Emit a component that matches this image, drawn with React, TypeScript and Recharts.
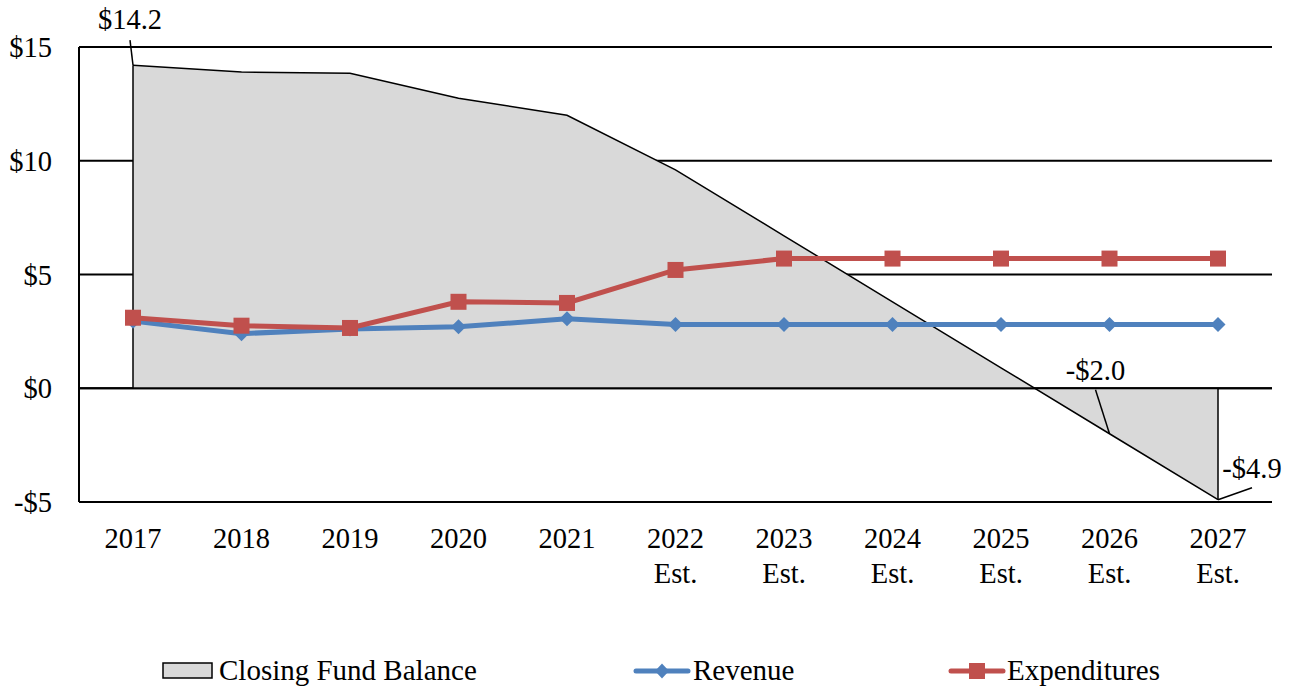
import React from "react";
import {
  ComposedChart,
  Area,
  Line,
  XAxis,
  YAxis,
  CartesianGrid,
  ReferenceLine,
  LabelList,
} from "recharts";

// values in $ millions
const years = ["2017", "2018", "2019", "2020", "2021", "2022", "2023", "2024", "2025", "2026", "2027"];
const estimated = [false, false, false, false, false, true, true, true, true, true, true];
const fundBalance = [14.2, 13.9, 13.85, 12.75, 12.0, 9.6, 6.7, 3.8, 0.9, -2.0, -4.9];
const revenue = [2.95, 2.4, 2.6, 2.7, 3.05, 2.8, 2.8, 2.8, 2.8, 2.8, 2.8];
const expenditures = [3.1, 2.75, 2.65, 3.8, 3.75, 5.2, 5.7, 5.7, 5.7, 5.7, 5.7];
const yTicks = [-5, 0, 5, 10, 15];
const labelledPoints = [0, 9, 10];
const seriesNames = ["Closing Fund Balance", "Revenue", "Expenditures"];

const FONT = "Liberation Serif, Times New Roman, Times, serif";
const BLUE = "#4F81BD";
const RED = "#C0504D";
const GRAY = "#D9D9D9";

const data = years.map((y, i) => ({
  year: estimated[i] ? `${y} Est.` : y,
  fund: fundBalance[i],
  revenue: revenue[i],
  expenditures: expenditures[i],
}));

const money = (v: number) => (v < 0 ? `-$${Math.abs(v)}` : `$${v}`);
const money1 = (v: number) => (v < 0 ? `-$${Math.abs(v).toFixed(1)}` : `$${v.toFixed(1)}`);

const textStyle = { fontFamily: FONT, fontSize: 28.5 };
const legendText = { fontFamily: FONT, fontSize: 29 };

// where each data label sits relative to its point (leader end, text)
const labelOffsets: Record<number, { lx: number; ly: number; tx: number; ty: number }> = {
  0: { lx: -3, ly: -25, tx: -3, ty: -36 },
  9: { lx: -14, ly: -44, tx: -14, ty: -54 },
  10: { lx: 34, ly: -12, tx: 34, ty: -22 },
};

const FundLabel = (props: any) => {
  const { x, y, index, value } = props;
  if (!labelledPoints.includes(index)) return null;
  const o = labelOffsets[index];
  return (
    <g>
      <line x1={x} y1={y} x2={x + o.lx} y2={y + o.ly} stroke="#000" strokeWidth={1.5} />
      <text x={x + o.tx} y={y + o.ty} textAnchor="middle" style={textStyle} fill="#000">
        {money1(value)}
      </text>
    </g>
  );
};

const XTick = (props: any) => {
  const { x, y, payload } = props;
  const parts = String(payload.value).split(" ");
  return (
    <text x={x} y={y} textAnchor="middle" style={textStyle} fill="#000">
      {parts.map((p, i) => (
        <tspan key={i} x={x} dy={i === 0 ? 46 : 35}>
          {p}
        </tspan>
      ))}
    </text>
  );
};

const Diamond = (props: any) => {
  const { cx, cy } = props;
  if (cx == null || cy == null) return null;
  const r = 7.5;
  return <polygon points={`${cx},${cy - r} ${cx + r},${cy} ${cx},${cy + r} ${cx - r},${cy}`} fill={BLUE} />;
};

const Square = (props: any) => {
  const { cx, cy } = props;
  if (cx == null || cy == null) return null;
  return <rect x={cx - 8} y={cy - 8} width={16} height={16} fill={RED} />;
};

const Legend = () => (
  <svg width={1294} height={60} style={{ position: "absolute", left: 0, top: 640 }}>
    <rect x={163} y={23} width={49} height={15} fill={GRAY} stroke="#000" strokeWidth={1.5} />
    <text x={219} y={40} style={legendText} fill="#000">{seriesNames[0]}</text>
    <line x1={636} y1={31} x2={688} y2={31} stroke={BLUE} strokeWidth={5} strokeLinecap="round" />
    <polygon points="662,23.5 669,31 662,38.5 655,31" fill={BLUE} />
    <text x={693} y={40} style={legendText} fill="#000">{seriesNames[1]}</text>
    <line x1={951} y1={31} x2={1003} y2={31} stroke={RED} strokeWidth={5} strokeLinecap="round" />
    <rect x={969} y={23} width={16} height={16} fill={RED} />
    <text x={1007} y={40} style={legendText} fill="#000">{seriesNames[2]}</text>
  </svg>
);

export default function App() {
  const first = data[0];
  const last = data[data.length - 1];
  return (
    <div style={{ position: "absolute", left: 0, top: 0, width: 1294, height: 686, background: "#fff", fontFamily: FONT }}>
      <ComposedChart
        width={1294}
        height={686}
        data={data}
        margin={{ top: 47, right: 22, left: 0, bottom: 84 }}
        style={{ fontFamily: FONT }}
      >
        <CartesianGrid horizontal vertical={false} stroke="#000" strokeWidth={2} />
        <XAxis
          dataKey="year"
          axisLine={false}
          tickLine={false}
          tickSize={0}
          tickMargin={0}
          height={100}
          padding={{ left: 54, right: 54 }}
          interval={0}
          tick={<XTick />}
        />
        <YAxis
          width={79}
          domain={[-5, 15]}
          ticks={yTicks}
          tickFormatter={money}
          axisLine={{ stroke: "#000", strokeWidth: 2 }}
          tickLine={false}
          tickSize={0}
          tickMargin={27}
          tick={{ style: textStyle, fill: "#000" }}
        />
        <Area
          type="linear"
          dataKey="fund"
          name={seriesNames[0]}
          baseValue={0}
          fill={GRAY}
          fillOpacity={1}
          stroke="#000"
          strokeWidth={1.5}
          isAnimationActive={false}
        >
          <LabelList dataKey="fund" content={<FundLabel />} />
        </Area>
        <ReferenceLine y={0} stroke="#000" strokeWidth={2} />
        <ReferenceLine
          segment={[{ x: first.year, y: 0 }, { x: first.year, y: first.fund }]}
          stroke="#000"
          strokeWidth={1.5}
        />
        <ReferenceLine
          segment={[{ x: last.year, y: 0 }, { x: last.year, y: last.fund }]}
          stroke="#000"
          strokeWidth={1.5}
        />
        <Line
          type="linear"
          dataKey="revenue"
          name={seriesNames[1]}
          stroke={BLUE}
          strokeWidth={5}
          dot={<Diamond />}
          activeDot={false}
          isAnimationActive={false}
        />
        <Line
          type="linear"
          dataKey="expenditures"
          name={seriesNames[2]}
          stroke={RED}
          strokeWidth={5}
          dot={<Square />}
          activeDot={false}
          isAnimationActive={false}
        />
      </ComposedChart>
      <Legend />
    </div>
  );
}
